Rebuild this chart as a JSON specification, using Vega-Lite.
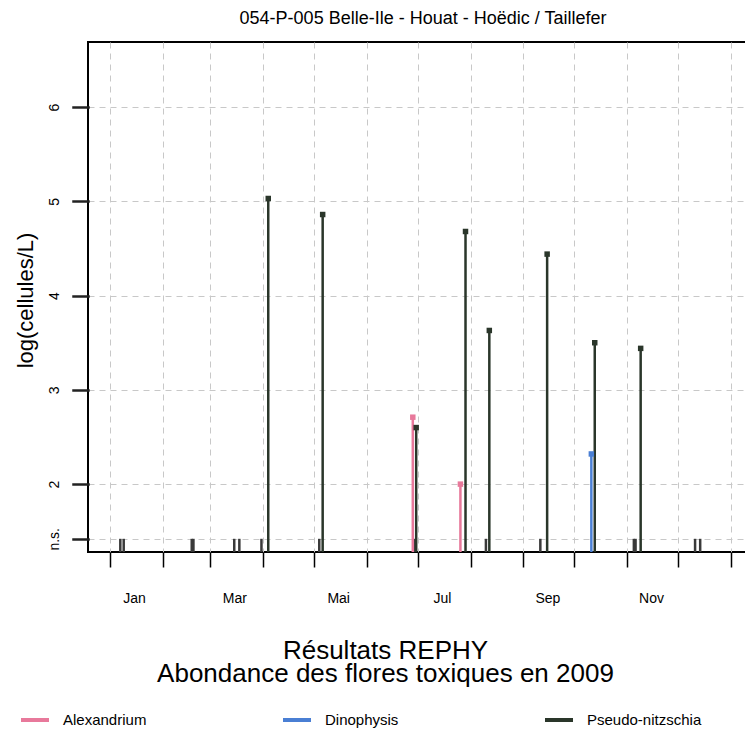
{
  "$schema": "https://vega.github.io/schema/vega-lite/v6.json",
  "autosize": {"type": "none"},
  "padding": {"left": 88, "top": 42, "right": 0, "bottom": 183},
  "width": 670,
  "height": 510,
  "background": "white",
  "config": {
    "font": "Liberation Sans",
    "view": {"stroke": "black", "strokeWidth": 2},
    "axis": {"labelColor": "black", "titleColor": "black", "domain": false, "gridColor": "#c8c8c8", "gridDash": [6, 5], "gridWidth": 1},
    "axisY": {"ticks": true, "tickSize": 15, "tickColor": "#222222", "tickWidth": 2.5, "tickOpacity": 1, "tickCap": "square"}
  },
  "title": {"text": "054-P-005 Belle-Ile - Houat - Hoëdic / Taillefer", "fontSize": 18, "fontWeight": "normal", "color": "black", "baseline": "alphabetic", "offset": 0, "anchor": "middle", "frame": "group"},
  "data": {
    "values": [
      {"date": "2009-01-07", "species": "Alexandrium", "value": 1.42},
      {"date": "2009-01-09", "species": "Pseudo-nitzschia", "value": 1.42},
      {"date": "2009-02-18", "species": "Alexandrium", "value": 1.42},
      {"date": "2009-02-19", "species": "Pseudo-nitzschia", "value": 1.42},
      {"date": "2009-03-15", "species": "Alexandrium", "value": 1.42},
      {"date": "2009-03-18", "species": "Pseudo-nitzschia", "value": 1.42},
      {"date": "2009-03-31", "species": "Alexandrium", "value": 1.42},
      {"date": "2009-04-04", "species": "Pseudo-nitzschia", "value": 5.03},
      {"date": "2009-05-04", "species": "Alexandrium", "value": 1.42},
      {"date": "2009-05-06", "species": "Pseudo-nitzschia", "value": 4.86},
      {"date": "2009-06-29", "species": "Dinophysis", "value": 1.42},
      {"date": "2009-06-28", "species": "Alexandrium", "value": 2.71},
      {"date": "2009-06-30", "species": "Pseudo-nitzschia", "value": 2.6},
      {"date": "2009-07-26", "species": "Alexandrium", "value": 2.0},
      {"date": "2009-07-29", "species": "Pseudo-nitzschia", "value": 4.68},
      {"date": "2009-08-10", "species": "Alexandrium", "value": 1.42},
      {"date": "2009-08-12", "species": "Pseudo-nitzschia", "value": 3.63},
      {"date": "2009-09-11", "species": "Alexandrium", "value": 1.42},
      {"date": "2009-09-15", "species": "Pseudo-nitzschia", "value": 4.44},
      {"date": "2009-10-11", "species": "Dinophysis", "value": 2.32},
      {"date": "2009-10-13", "species": "Pseudo-nitzschia", "value": 3.5},
      {"date": "2009-11-05", "species": "Alexandrium", "value": 1.42},
      {"date": "2009-11-06", "species": "Dinophysis", "value": 1.42},
      {"date": "2009-11-09", "species": "Pseudo-nitzschia", "value": 3.44},
      {"date": "2009-12-11", "species": "Alexandrium", "value": 1.42},
      {"date": "2009-12-14", "species": "Pseudo-nitzschia", "value": 1.42}
    ]
  },
  "encoding": {
    "x": {
      "field": "date", "type": "temporal",
      "scale": {"type": "utc", "domain": [{"year": 2008, "month": 12, "date": 19, "utc": true}, {"year": 2010, "month": 1, "date": 17, "utc": true}]},
      "axis": {
        "values": [
          {"year": 2009, "month": 1, "date": 1, "utc": true},
          {"year": 2009, "month": 2, "date": 1, "utc": true},
          {"year": 2009, "month": 3, "date": 1, "utc": true},
          {"year": 2009, "month": 4, "date": 1, "utc": true},
          {"year": 2009, "month": 5, "date": 1, "utc": true},
          {"year": 2009, "month": 6, "date": 1, "utc": true},
          {"year": 2009, "month": 7, "date": 1, "utc": true},
          {"year": 2009, "month": 8, "date": 1, "utc": true},
          {"year": 2009, "month": 9, "date": 1, "utc": true},
          {"year": 2009, "month": 10, "date": 1, "utc": true},
          {"year": 2009, "month": 11, "date": 1, "utc": true},
          {"year": 2009, "month": 12, "date": 1, "utc": true},
          {"year": 2010, "month": 1, "date": 1, "utc": true}
        ],
        "labelExpr": "utcyear(datum.value) > 2009 ? '' : ['Jan','','Mar','','Mai','','Jul','','Sep','','Nov',''][utcmonth(datum.value)]",
        "labelOffset": 24, "labelPadding": 24, "labelFontSize": 14, "labelBaseline": "top",
        "labelFlush": false, "labelOverlap": false, "labelBound": false,
        "ticks": true, "tickSize": 15, "tickColor": "black", "tickWidth": 1.5, "grid": true,
        "title": ["Résultats REPHY", "Abondance des flores toxiques en 2009"],
        "titleX": 297, "titleY": 106, "titleFontSize": 26, "titleLineHeight": 23, "titleFontWeight": "normal", "titleBaseline": "alphabetic", "titleAlign": "center"
      }
    },
    "y": {
      "field": "value", "type": "quantitative",
      "scale": {"domain": [1.28, 6.69], "nice": false, "zero": false},
      "axis": {
        "values": [1.42, 2, 3, 4, 5, 6],
        "format": "d",
        "labelExpr": "datum.value < 1.5 ? 'n.s.' : datum.label",
        "labelAngle": 270, "labelAlign": "center", "labelBaseline": "bottom", "labelPadding": 12, "labelFontSize": 14,
        "grid": true,
        "title": "log(cellules/L)", "titleFontSize": 22, "titleFontWeight": "normal", "titleX": -63, "titleY": 258, "titleAngle": 270, "titleAlign": "center", "titleBaseline": "middle"
      }
    }
  },
  "layer": [
    {
      "mark": {"type": "rule", "strokeWidth": 2.5},
      "encoding": {
        "y2": {"datum": 1.28},
        "color": {
          "field": "species", "type": "nominal",
          "scale": {"domain": ["Alexandrium", "Dinophysis", "Pseudo-nitzschia"], "range": ["#e8799b", "#4a7fd4", "#2a362a"]},
          "condition": {"test": "datum.value < 1.5", "value": "#3a3a3a"},
          "legend": {"orient": "none", "legendX": -69, "legendY": 662, "direction": "horizontal", "columns": 3, "symbolType": "stroke", "symbolSize": 784, "symbolStrokeWidth": 4, "labelFontSize": 15, "labelColor": "black", "labelOffset": 12, "gridAlign": "all", "columnPadding": 97, "title": null}
        }
      }
    },
    {
      "transform": [{"filter": "datum.value > 1.5"}],
      "mark": {"type": "point", "shape": "square", "filled": true, "size": 30, "opacity": 1},
      "encoding": {
        "color": {"field": "species", "type": "nominal", "legend": null}
      }
    }
  ]
}
